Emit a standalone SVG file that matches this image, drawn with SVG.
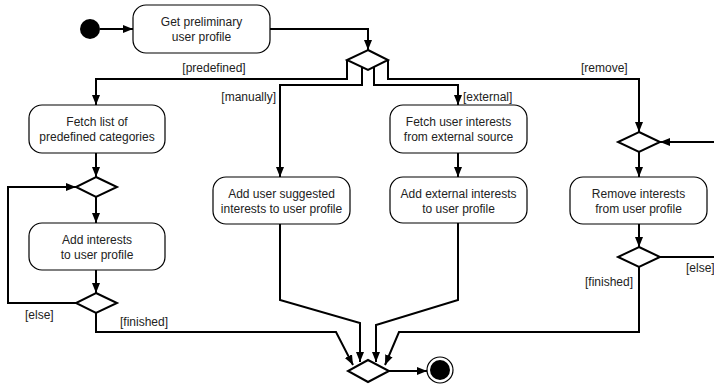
<svg xmlns="http://www.w3.org/2000/svg" width="714" height="385" viewBox="0 0 714 385">
<defs>
<marker id="arr" markerUnits="userSpaceOnUse" markerWidth="10" markerHeight="10" viewBox="0 0 10 10" refX="10" refY="5" orient="auto">
<path d="M0,1 L10,5 L0,9 Z" fill="#000"/>
</marker>
<style>
.box{fill:#fff;stroke:#000;stroke-width:1.2}
.dia{fill:#fff;stroke:#000;stroke-width:2}
.c{fill:none;stroke:#000;stroke-width:2}
.a{marker-end:url(#arr)}
text{font-family:"Liberation Sans",Arial,sans-serif;font-size:12px;fill:#222}
.m{text-anchor:middle}
.e{text-anchor:end}
</style>
</defs>
<rect width="714" height="385" fill="#fff"/>
<g id="connectors">
<line class="c a" x1="100" y1="29" x2="133" y2="29"/>
<polyline class="c a" points="270,29 368,29 368,50"/>
<polyline class="c a" points="347,60 347,79 96,79 96,105"/>
<polyline class="c a" points="362,66 362,85 280,85 280,177"/>
<polyline class="c a" points="374,66 374,85 458,85 458,105"/>
<polyline class="c a" points="388,60 388,79 639,79 639,132"/>
<line class="c a" x1="96" y1="153" x2="96" y2="177"/>
<line class="c a" x1="96" y1="197" x2="96" y2="223"/>
<line class="c a" x1="96" y1="270" x2="96" y2="293"/>
<polyline class="c a" points="76,303 8,303 8,187 76,187"/>
<polyline class="c a" points="96,313 96,332 336,332 353,365"/>
<line class="c a" x1="458" y1="153" x2="458" y2="177"/>
<polyline class="c a" points="280,224 280,300 360,323 360,362"/>
<polyline class="c a" points="458,223 458,300 376,325 376,362"/>
<line class="c a" x1="714" y1="142" x2="660" y2="142"/>
<line class="c a" x1="639" y1="152" x2="639" y2="177"/>
<line class="c a" x1="639" y1="224" x2="639" y2="247"/>
<line class="c" x1="660" y1="257" x2="714" y2="257"/>
<polyline class="c a" points="639,267 639,332 399,332 385,365"/>
<line class="c a" x1="389" y1="371" x2="427" y2="371"/>
</g>
<g id="start"><circle cx="90" cy="29" r="10" fill="#000"/></g>
<g id="getProfile"><rect class="box" x="133" y="5" width="137" height="48" rx="13"/><text class="m" x="201.5" y="26">Get preliminary</text><text class="m" x="201.5" y="41">user profile</text></g>
<g id="decision1"><polygon class="dia" points="368,50 388,60 368,70 347,60"/></g>
<g id="fetchList"><rect class="box" x="29" y="105" width="136" height="48" rx="13"/><text class="m" x="97" y="126">Fetch list of</text><text class="m" x="97" y="141">predefined categories</text></g>
<g id="merge1"><polygon class="dia" points="96,177 117,187 96,197 76,187"/></g>
<g id="addInterests"><rect class="box" x="29" y="223" width="136" height="47" rx="13"/><text class="m" x="97" y="244">Add interests</text><text class="m" x="97" y="259">to user profile</text></g>
<g id="decision2"><polygon class="dia" points="96,293 117,303 96,313 76,303"/></g>
<g id="addSuggested"><rect class="box" x="213" y="177" width="137" height="47" rx="13"/><text class="m" x="281.5" y="198">Add user suggested</text><text class="m" x="281.5" y="213">interests to user profile</text></g>
<g id="fetchExternal"><rect class="box" x="390" y="105" width="137" height="48" rx="13"/><text class="m" x="458.5" y="126">Fetch user interests</text><text class="m" x="458.5" y="141">from external source</text></g>
<g id="addExternal"><rect class="box" x="390" y="177" width="137" height="46" rx="13"/><text class="m" x="458.5" y="198">Add external interests</text><text class="m" x="458.5" y="213">to user profile</text></g>
<g id="merge3"><polygon class="dia" points="639,132 660,142 639,152 618,142"/></g>
<g id="removeInterests"><rect class="box" x="570" y="177" width="137" height="47" rx="13"/><text class="m" x="638.5" y="198">Remove interests</text><text class="m" x="638.5" y="213">from user profile</text></g>
<g id="decision4"><polygon class="dia" points="639,247 660,257 639,267 618,257"/></g>
<g id="mergeFinal"><polygon class="dia" points="368,360 389,371 368,382 348,371"/></g>
<g id="end"><circle cx="440" cy="370" r="13" fill="#fff" stroke="#000" stroke-width="1.2"/><circle cx="440" cy="370" r="10" fill="#000"/></g>
<g id="labels">
<text class="m" x="214" y="72">[predefined]</text>
<text class="e" x="276" y="101">[manually]</text>
<text x="463" y="101">[external]</text>
<text x="581" y="72">[remove]</text>
<text x="25" y="319">[else]</text>
<text x="120" y="326">[finished]</text>
<text x="686" y="272">[else]</text>
<text x="585" y="286">[finished]</text>
</g>
</svg>
